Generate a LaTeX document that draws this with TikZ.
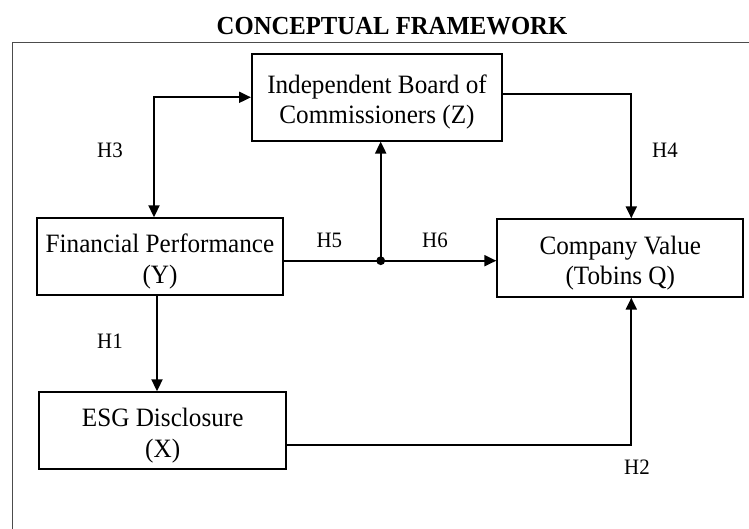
\documentclass[tikz,border=0pt]{standalone}
\usepackage{fontspec}
\setmainfont[FakeStretch=0.95]{Liberation Serif}
\usetikzlibrary{arrows.meta}
\newcommand{\topstrut}{\rule{0pt}{28.5pt}}
\begin{document}
\begin{tikzpicture}[x=1pt,y=-1pt,
  box/.style={draw, line width=2pt, rectangle, inner sep=0pt, align=center,
    font=\fontsize{26.5}{30.5}\selectfont},
  hlab/.style={font=\fontsize{22}{26}\selectfont, inner sep=0pt},
  conn/.style={line width=2pt},
  tip/.style={-{Triangle[length=12pt,width=11pt]}},
  dtip/.style={{Triangle[length=12pt,width=11pt]}-{Triangle[length=12pt,width=11pt]}}
]
\useasboundingbox (0,0) rectangle (749,529);
\fill[white] (0,0) rectangle (749,529);
% outer frame (cut off at right and bottom)
\coordinate (fbl) at (12.7,529);
\coordinate (ftl) at (12.7,42.7);
\coordinate (ftr) at (749,42.7);
\draw[line width=1.3pt, black!70] (fbl) -- (ftl) -- (ftr);
% title
\node[font=\fontsize{26}{30}\selectfont\bfseries, inner sep=0pt] (title) at (392,26) {CONCEPTUAL FRAMEWORK};
% boxes
\node[box, minimum width=250pt, minimum height=86.5pt] (Z) at (377,97.3) {\topstrut Independent Board of\\Commissioners (Z)};
\node[box, minimum width=246.6pt, minimum height=77pt] (Y) at (160,256.8) {\topstrut Financial Performance\\(Y)};
\node[box, minimum width=246pt, minimum height=77.4pt] (CV) at (620.3,258) {\topstrut Company Value\\(Tobins Q)};
\node[box, minimum width=246.7pt, minimum height=77pt] (X) at (162.7,430.8) {\topstrut ESG Disclosure\\(X)};
% connectors
\draw[conn, dtip] ([xshift=-6pt]Y.north) |- (Z.west);
\draw[conn, tip] ([yshift=3pt]Z.east) -| ([xshift=11pt]CV.north);
\draw[conn, tip] ([xshift=-3pt]Y.south) -- ([xshift=-3pt]Y.south |- X.north);
\draw[conn, tip] ([yshift=-14pt]X.east) -| ([xshift=11pt]CV.south);
\coordinate (j) at (380.7,260.7);
\draw[conn] ([yshift=-3.9pt]Y.east) -- (j);
\draw[conn, tip] (j) -- (j -| CV.west);
\draw[conn, tip] (j) -- (j |- Z.south);
\fill (j) circle (4.4pt);
% labels
\node[hlab] (h3) at (110,150) {H3};
\node[hlab] (h4) at (665,150) {H4};
\node[hlab] (h5) at (329.3,240) {H5};
\node[hlab] (h6) at (435,240) {H6};
\node[hlab] (h1) at (110,341) {H1};
\node[hlab] (h2) at (637,467) {H2};
\end{tikzpicture}
\end{document}
